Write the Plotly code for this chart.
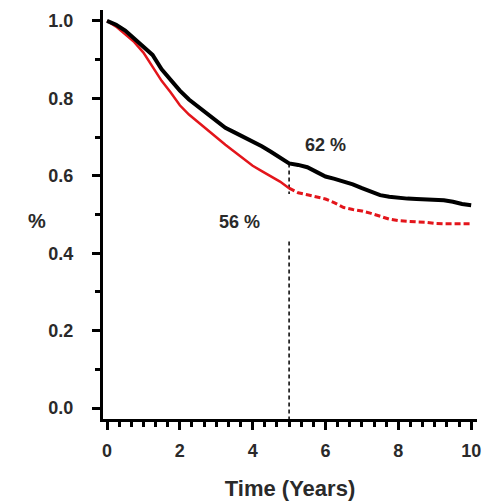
import plotly.graph_objects as go

# Time points (years)
years = [0, 0.25, 0.5, 0.75, 1.0, 1.25, 1.5, 1.75, 2.0, 2.25, 2.5, 2.75, 3.0, 3.25, 3.5, 3.75,
         4.0, 4.25, 4.5, 4.75, 5.0, 5.25, 5.5, 5.75, 6.0, 6.25, 6.5, 6.75, 7.0, 7.25, 7.5, 7.75,
         8.0, 8.25, 8.5, 8.75, 9.0, 9.25, 9.5, 9.75, 10.0]

# Survival, black group
surv_black = [1.0, 0.99, 0.975, 0.955, 0.935, 0.912, 0.875, 0.848, 0.82, 0.797, 0.778, 0.76,
              0.74, 0.724, 0.712, 0.70, 0.69, 0.676, 0.662, 0.648, 0.632, 0.628, 0.622, 0.61,
              0.598, 0.592, 0.586, 0.578, 0.568, 0.558, 0.55, 0.546, 0.543, 0.541, 0.54, 0.539,
              0.538, 0.537, 0.533, 0.527, 0.524]

# Survival, red group
surv_red = [1.0, 0.985, 0.965, 0.945, 0.918, 0.88, 0.845, 0.815, 0.782, 0.758, 0.738, 0.72,
            0.70, 0.68, 0.662, 0.645, 0.626, 0.612, 0.598, 0.585, 0.568, 0.556, 0.551, 0.546,
            0.54, 0.53, 0.518, 0.513, 0.509, 0.503, 0.495, 0.488, 0.484, 0.482, 0.481, 0.48,
            0.477, 0.476, 0.476, 0.476, 0.476]

landmark_year = 5
label_black = "62 %"
label_red = "56 %"
lower_guide_top = 0.43

x_ticks = [0, 2, 4, 6, 8, 10]
y_ticks = [0.0, 0.2, 0.4, 0.6, 0.8, 1.0]

split = years.index(landmark_year)
FONT = "Liberation Sans, Arial, sans-serif"
TXT = "#2a2a2a"
RED = "#e3151b"

fig = go.Figure()

# vertical guide at the landmark
fig.add_trace(go.Scatter(x=[landmark_year, landmark_year],
                         y=[surv_black[split], surv_red[split] - 0.015],
                         mode="lines", line=dict(color="black", width=1.5, dash="4px,3px"),
                         showlegend=False, hoverinfo="skip"))
fig.add_trace(go.Scatter(x=[landmark_year, landmark_year],
                         y=[lower_guide_top, -0.03],
                         mode="lines", line=dict(color="black", width=1.5, dash="4px,3px"),
                         showlegend=False, hoverinfo="skip", cliponaxis=False))

fig.add_trace(go.Scatter(x=years[:split + 1], y=surv_red[:split + 1], mode="lines",
                         line=dict(color=RED, width=2.5), showlegend=False))
fig.add_trace(go.Scatter(x=years[split:], y=surv_red[split:], mode="lines",
                         line=dict(color=RED, width=3, dash="6px,3px"),
                         showlegend=False))
fig.add_trace(go.Scatter(x=years, y=surv_black, mode="lines",
                         line=dict(color="black", width=4), showlegend=False))

fig.add_annotation(x=6.0, y=0.679, text=f"<b>{label_black}</b>", showarrow=False,
                   font=dict(family=FONT, size=18, color=TXT))
fig.add_annotation(x=3.65, y=0.48, text=f"<b>{label_red}</b>", showarrow=False,
                   font=dict(family=FONT, size=18, color=TXT))
fig.add_annotation(xref="paper", yref="paper", x=-0.177, y=0.483, text="<b>%</b>",
                   xanchor="center", yanchor="middle",
                   showarrow=False, font=dict(family=FONT, size=20, color=TXT))

axis_common = dict(showline=True, linecolor="black", linewidth=3, ticks="outside",
                   ticklen=8, tickwidth=3, tickcolor="black", showgrid=False, zeroline=False,
                   automargin=False,
                   tickfont=dict(family=FONT, size=18, color=TXT))

fig.update_xaxes(range=[-0.11, 10.16], tickvals=x_ticks,
                 ticktext=[f"<b>{v}</b>" for v in x_ticks],
                 minor=dict(ticks="outside", dtick=1 / 3, tick0=0, ticklen=5, tickwidth=2.5,
                            tickcolor="black"),
                 ticklabelstandoff=5,
                 title=dict(text="<b>Time (Years)</b>", font=dict(family=FONT, size=22, color=TXT),
                            standoff=22),
                 **axis_common)
fig.update_yaxes(range=[-0.028, 1.028], tickvals=y_ticks,
                 ticktext=[f"<b>{v:.1f}</b>" for v in y_ticks],
                 minor=dict(ticks="outside", dtick=0.1, tick0=0, ticklen=5, tickwidth=2.5,
                            tickcolor="black"),
                 ticklabelstandoff=15,
                 **axis_common)

fig.update_layout(width=489, height=503, margin=dict(l=103, r=12, t=10, b=84),
                  plot_bgcolor="white", paper_bgcolor="white")

fig.write_html("out.html", config={"displayModeBar": False},
               post_script="document.body.style.margin='0';document.body.style.overflow='hidden';")
